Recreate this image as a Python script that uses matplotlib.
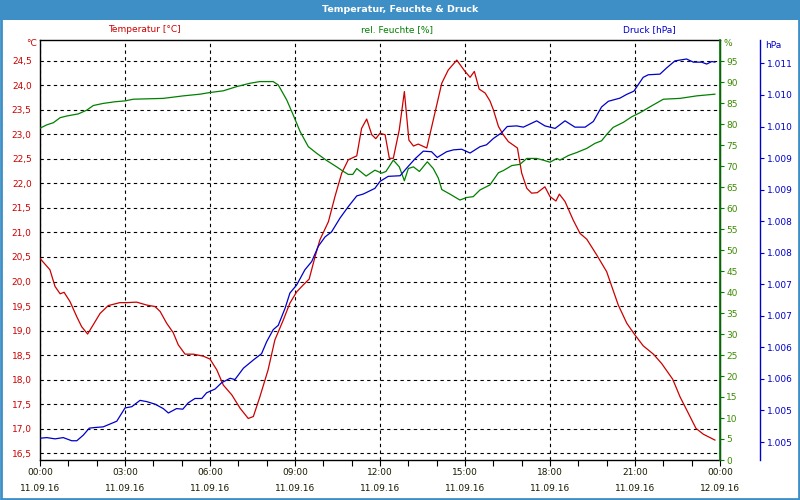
import matplotlib
matplotlib.use('Agg')
import matplotlib.pyplot as plt
from matplotlib.patches import Rectangle
from matplotlib.ticker import FixedLocator, FuncFormatter

# ---------------- data (hours since 11.09.16 00:00) ----------------
temp_hours = [0.00, 0.35, 0.53, 0.71, 0.85, 1.06, 1.30, 1.47, 1.68, 1.88, 2.12, 2.41, 2.82, 3.06,
              3.41, 3.77, 4.06, 4.24, 4.47, 4.70, 4.88, 5.12, 5.41, 5.76, 6.00, 6.24, 6.47, 6.77,
              7.06, 7.35, 7.53, 7.76, 8.05, 8.29, 8.59, 8.82, 9.06, 9.29, 9.50, 9.71, 9.88, 10.18,
              10.41, 10.65, 10.88, 11.18, 11.35, 11.53, 11.71, 11.85, 12.00, 12.18, 12.33, 12.47,
              12.68, 12.86, 13.02, 13.18, 13.35, 13.65, 13.88, 14.18, 14.41, 14.71, 15.00, 15.18,
              15.33, 15.50, 15.71, 15.88, 16.00, 16.18, 16.35, 16.53, 16.85, 17.00, 17.18, 17.35,
              17.55, 17.82, 18.00, 18.21, 18.33, 18.53, 18.82, 19.06, 19.30, 19.65, 20.00, 20.18,
              20.41, 20.71, 21.00, 21.29, 21.65, 21.94, 22.33, 22.59, 22.88, 23.15, 23.41, 23.82]
temp_values = [20.47, 20.24, 19.90, 19.75, 19.78, 19.59, 19.28, 19.08, 18.93, 19.12, 19.35, 19.51,
               19.57, 19.57, 19.58, 19.52, 19.49, 19.39, 19.15, 18.96, 18.71, 18.52, 18.52, 18.48,
               18.42, 18.20, 17.89, 17.69, 17.42, 17.21, 17.25, 17.65, 18.20, 18.81, 19.22, 19.56,
               19.79, 19.93, 20.05, 20.51, 20.85, 21.22, 21.73, 22.21, 22.48, 22.56, 23.12, 23.31,
               22.99, 22.91, 23.02, 22.99, 22.51, 22.51, 23.09, 23.87, 22.88, 22.76, 22.80, 22.72,
               23.29, 24.04, 24.31, 24.51, 24.28, 24.16, 24.28, 23.92, 23.84, 23.68, 23.50, 23.16,
               22.99, 22.85, 22.72, 22.21, 21.90, 21.80, 21.81, 21.93, 21.73, 21.64, 21.78, 21.63,
               21.25, 20.98, 20.86, 20.54, 20.20, 19.90, 19.52, 19.15, 18.91, 18.69, 18.52, 18.33,
               18.01, 17.65, 17.32, 17.01, 16.89, 16.77]

hum_hours = [0.00, 0.24, 0.47, 0.71, 0.94, 1.35, 1.65, 1.88, 2.23, 2.65, 3.00, 3.29, 4.35, 5.06,
             5.65, 6.00, 6.47, 6.94, 7.41, 7.76, 8.23, 8.41, 8.71, 8.94, 9.18, 9.47, 9.77, 10.12,
             10.47, 10.71, 10.88, 11.04, 11.18, 11.51, 11.82, 12.06, 12.21, 12.47, 12.68, 12.86,
             13.00, 13.18, 13.39, 13.67, 13.88, 14.06, 14.18, 14.47, 14.82, 15.06, 15.29, 15.53,
             15.88, 16.18, 16.35, 16.65, 16.94, 17.18, 17.53, 17.76, 18.00, 18.24, 18.35, 18.65,
             18.94, 19.30, 19.59, 19.82, 20.00, 20.23, 20.59, 20.88, 21.18, 21.53, 22.00, 22.59,
             23.18, 23.82]
hum_values = [79.0, 79.8, 80.3, 81.5, 81.9, 82.4, 83.3, 84.4, 84.9, 85.3, 85.5, 85.9, 86.1, 86.7,
              87.1, 87.5, 87.9, 88.9, 89.7, 90.1, 90.1, 89.3, 85.7, 82.1, 78.2, 74.6, 73.0, 71.3,
              69.8, 68.7, 68.0, 68.0, 69.4, 67.6, 69.0, 68.3, 68.7, 71.4, 69.8, 66.5, 69.4, 69.8,
              68.7, 71.0, 69.4, 67.1, 64.4, 63.3, 61.9, 62.5, 62.7, 64.3, 65.5, 68.4, 68.9, 70.1,
              70.4, 71.8, 71.8, 71.4, 70.9, 71.8, 71.4, 72.5, 73.2, 74.2, 75.4, 76.0, 77.5, 79.2,
              80.4, 81.7, 82.7, 84.1, 85.9, 86.1, 86.7, 87.1]

pres_hours = [0.00, 0.24, 0.53, 0.82, 1.12, 1.30, 1.53, 1.74, 1.94, 2.23, 2.71, 3.00, 3.24, 3.53,
              3.77, 4.06, 4.35, 4.53, 4.82, 5.04, 5.23, 5.47, 5.71, 5.88, 6.18, 6.41, 6.71, 6.88,
              7.18, 7.53, 7.82, 8.00, 8.23, 8.41, 8.65, 8.82, 9.06, 9.35, 9.59, 9.82, 10.06, 10.29,
              10.59, 10.88, 11.18, 11.41, 11.82, 12.00, 12.29, 12.71, 12.94, 13.24, 13.53, 13.82,
              14.02, 14.35, 14.59, 14.88, 15.18, 15.53, 15.76, 16.00, 16.29, 16.49, 16.82, 17.06,
              17.53, 17.82, 18.18, 18.53, 18.88, 19.24, 19.53, 19.82, 20.06, 20.47, 20.71, 20.96,
              21.29, 21.47, 21.88, 22.12, 22.41, 22.82, 23.06, 23.35, 23.53, 23.71, 23.82]
pres_values = [1004.66, 1004.67, 1004.65, 1004.67, 1004.62, 1004.62, 1004.71, 1004.82, 1004.83,
               1004.84, 1004.93, 1005.14, 1005.16, 1005.26, 1005.24, 1005.20, 1005.13, 1005.06,
               1005.13, 1005.12, 1005.22, 1005.29, 1005.29, 1005.38, 1005.44, 1005.54, 1005.61,
               1005.59, 1005.77, 1005.90, 1006.00, 1006.19, 1006.38, 1006.45, 1006.72, 1006.96,
               1007.09, 1007.33, 1007.46, 1007.70, 1007.85, 1007.93, 1008.15, 1008.33, 1008.50,
               1008.53, 1008.62, 1008.73, 1008.81, 1008.82, 1008.94, 1009.09, 1009.21, 1009.20,
               1009.11, 1009.20, 1009.23, 1009.24, 1009.18, 1009.28, 1009.31, 1009.41, 1009.50,
               1009.60, 1009.61, 1009.59, 1009.69, 1009.61, 1009.57, 1009.69, 1009.59, 1009.59,
               1009.68, 1009.91, 1010.00, 1010.05, 1010.11, 1010.16, 1010.38, 1010.42, 1010.43,
               1010.53, 1010.64, 1010.67, 1010.62, 1010.62, 1010.59, 1010.63, 1010.62]

x_major = [0, 3, 6, 9, 12, 15, 18, 21, 24]
x_labels = ['00:00\n11.09.16', '03:00\n11.09.16', '06:00\n11.09.16', '09:00\n11.09.16',
            '12:00\n11.09.16', '15:00\n11.09.16', '18:00\n11.09.16', '21:00\n11.09.16',
            '00:00\n12.09.16']
x_minor = list(range(0, 25))
temp_ticks = [16.5, 17.0, 17.5, 18.0, 18.5, 19.0, 19.5, 20.0, 20.5, 21.0, 21.5, 22.0, 22.5, 23.0,
              23.5, 24.0, 24.5]
hum_ticks = list(range(0, 100, 5))
pres_ticks = [1004.6, 1005.1, 1005.6, 1006.1, 1006.6, 1007.1, 1007.6, 1008.1, 1008.6, 1009.1,
              1009.6, 1010.1, 1010.6]

title = 'Temperatur, Feuchte & Druck'
series_names = ['Temperatur [°C]', 'rel. Feuchte [%]', 'Druck [hPa]']

# ---------------- styling ----------------
RED = '#cc0000'
GREEN = '#008000'
BLUE = '#0000cc'
BAR = '#3d8fc6'
FS = 6.5
plt.rcParams['font.family'] = ['DejaVu Sans']

W, H = 800, 500
fig = plt.figure(figsize=(8, 5), dpi=100)
fig.patch.set_facecolor('white')

L, R, T, B = 40, 720, 40, 460
ax = fig.add_axes([L / W, (H - B) / H, (R - L) / W, (B - T) / H])
ax.set_xlim(0, 24)
ax.set_ylim(16.364, 24.92)

ax.plot(temp_hours, temp_values, color=RED, lw=0.9, zorder=3)

ax.xaxis.set_major_locator(FixedLocator(x_major))
ax.set_xticklabels(x_labels)
ax.xaxis.set_minor_locator(FixedLocator(x_minor))
ax.tick_params(axis='x', which='both', direction='out', length=4, width=0.8,
               labelsize=FS, labelcolor='#1a1a00', pad=2)
ax.yaxis.set_major_locator(FixedLocator(temp_ticks))
ax.yaxis.set_major_formatter(FuncFormatter(lambda v, p: f'{v:.1f}'.replace('.', ',')))
ax.tick_params(axis='y', length=0, labelsize=FS, labelcolor=RED, pad=6)
for lab in ax.get_xticklabels():
    lab.set_linespacing(1.9)
ax.grid(True, which='major', color='black', linestyle=(0, (3, 3)), linewidth=0.8)
for s in ax.spines.values():
    s.set_color('black')
    s.set_linewidth(1.0)

# humidity axis
ax2 = ax.twinx()
ax2.set_ylim(0, 100)
ax2.plot(hum_hours, hum_values, color=GREEN, lw=0.9, zorder=3)
ax2.yaxis.set_major_locator(FixedLocator(hum_ticks))
ax2.tick_params(axis='y', direction='out', length=3, width=0.8, color=GREEN,
                labelsize=FS, labelcolor='#3d8a00', pad=1.5)
for k in ['left', 'top', 'bottom']:
    ax2.spines[k].set_visible(False)
ax2.spines['right'].set_color(GREEN)
ax2.spines['right'].set_linewidth(1.2)

# pressure axis
ax3 = ax.twinx()
ax3.set_ylim(1004.315, 1010.971)
ax3.plot(pres_hours, pres_values, color=BLUE, lw=0.9, zorder=3)
ax3.spines['right'].set_position(('axes', (760 - L) / (R - L)))
for k in ['left', 'top', 'bottom']:
    ax3.spines[k].set_visible(False)
ax3.spines['right'].set_color(BLUE)
ax3.spines['right'].set_linewidth(1.0)
ax3.yaxis.set_major_locator(FixedLocator(pres_ticks))
ax3.yaxis.set_major_formatter(FuncFormatter(lambda v, p: f'{int(round(v)):,}'.replace(',', '.')))
ax3.tick_params(axis='y', direction='out', length=3, width=0.8, color=BLUE,
                labelsize=FS, labelcolor=BLUE, pad=2)

# title bar & frame
fig.patches.append(Rectangle((0, 1 - 20 / H), 1, 20 / H, transform=fig.transFigure,
                             facecolor=BAR, edgecolor='none', zorder=0))
fig.patches.append(Rectangle((0.001, 0.002), 0.998, 0.996, transform=fig.transFigure,
                             facecolor='none', edgecolor=BAR, linewidth=2.0, zorder=0))
fig.text(0.5, 1 - 9.5 / H, title, color='white', fontsize=6.8, fontweight='bold',
         ha='center', va='center')

# series names
fig.text(144 / W, 1 - 30 / H, series_names[0], color=RED, fontsize=FS, ha='center', va='center')
fig.text(397 / W, 1 - 30 / H, series_names[1], color=GREEN, fontsize=FS, ha='center', va='center')
fig.text(649 / W, 1 - 30 / H, series_names[2], color=BLUE, fontsize=FS, ha='center', va='center')

# unit labels
fig.text(37 / W, 1 - 44 / H, '°C', color=RED, fontsize=FS, ha='right', va='center')
fig.text(724 / W, 1 - 44 / H, '%', color='#3d8a00', fontsize=FS, ha='left', va='center')
fig.text(765 / W, 1 - 45 / H, 'hPa', color=BLUE, fontsize=FS, ha='left', va='center')

fig.savefig('out.png', dpi=100)
